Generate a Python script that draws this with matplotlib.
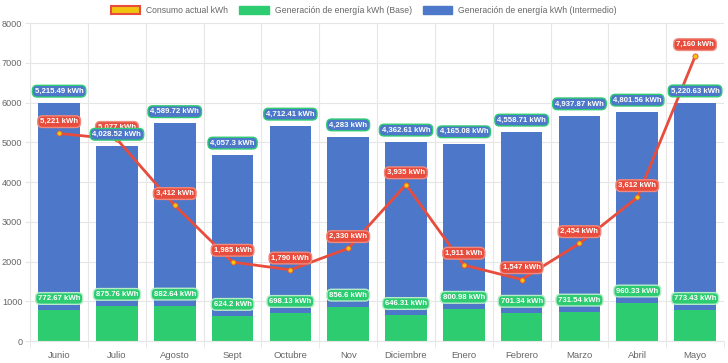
import matplotlib
matplotlib.use('Agg')
import matplotlib.pyplot as plt
from matplotlib.patches import Patch
import numpy as np

plt.rcParams['font.family'] = ['Liberation Sans', 'DejaVu Sans']

# Data
meses = ['Junio', 'Julio', 'Agosto', 'Sept', 'Octubre', 'Nov', 'Diciembre',
         'Enero', 'Febrero', 'Marzo', 'Abril', 'Mayo']
base = [772.67, 875.76, 882.64, 624.2, 698.13, 856.6, 646.31, 800.98,
        701.34, 731.54, 960.33, 773.43]
intermedio = [5215.49, 4028.52, 4589.72, 4057.3, 4712.41, 4283, 4362.61,
              4165.08, 4558.71, 4937.87, 4801.56, 5220.63]
consumo = [5221, 5077, 3412, 1985, 1790, 2330, 3935, 1911, 1547, 2454, 3612, 7160]

# Colors
green = '#2ecc71'
blue = '#4d78ca'
red = '#e74c3c'
yellow = '#f1c40f'
grid_color = '#e6e6e6'
text_color = '#666666'


def fmt(v):
    if float(v) == int(v):
        return f"{int(v):,} kWh"
    return f"{v:,.2f}".rstrip('0').rstrip('.') + " kWh"


fig = plt.figure(figsize=(7.28, 3.63), dpi=100)
ax = fig.add_axes([0.0415, 0.0606, 0.953, 0.876])

x = np.arange(len(meses))
width = 0.72

ax.bar(x, base, width, color=green, zorder=2)
ax.bar(x, intermedio, width, bottom=base, color=blue, zorder=2)
ax.plot(x, consumo, color=red, linewidth=2, zorder=4)
ax.scatter(x, consumo, s=14, color=yellow, edgecolors=red, linewidths=0.6, zorder=5)

# Data labels
box = 'round,pad=0.3,rounding_size=0.6'
lab_size = 5.6
for i in range(len(meses)):
    ax.annotate(fmt(consumo[i]), (x[i], consumo[i]), xytext=(0, 8.5),
                textcoords='offset points', ha='center', va='center',
                fontsize=lab_size, fontweight='bold', color='white', zorder=6,
                bbox=dict(boxstyle=box, fc=red, ec='#f08a7e', lw=1))
for i in range(len(meses)):
    ax.annotate(fmt(base[i]), (x[i], base[i]), xytext=(0, 8.5),
                textcoords='offset points', ha='center', va='center',
                fontsize=lab_size, fontweight='bold', color='white', zorder=7,
                bbox=dict(boxstyle=box, fc=green, ec='#b6ecc9', lw=1))
    ax.annotate(fmt(intermedio[i]), (x[i], base[i] + intermedio[i]), xytext=(0, 8.5),
                textcoords='offset points', ha='center', va='center',
                fontsize=lab_size, fontweight='bold', color='white', zorder=7,
                bbox=dict(boxstyle=box, fc=blue, ec=green, lw=1))

# Axes
ax.set_xlim(-0.5, len(meses) - 0.5)
ax.set_ylim(0, 8000)
ax.set_yticks(range(0, 8001, 1000))
ax.set_xticks(x)
ax.set_xticklabels(meses)
ax.set_xticks(np.arange(-0.5, len(meses)), minor=True)
ax.tick_params(axis='x', which='major', length=0, pad=7, labelsize=6.8, labelcolor=text_color)
ax.tick_params(axis='x', which='minor', length=5, color=grid_color)
ax.tick_params(axis='y', length=3.6, color=grid_color, labelsize=6.6, labelcolor=text_color, pad=2)
ax.grid(True, axis='y', color=grid_color, linewidth=0.8, zorder=0)
ax.grid(True, axis='x', which='minor', color=grid_color, linewidth=0.8, zorder=0)
ax.set_axisbelow(True)
for side in ['top', 'right']:
    ax.spines[side].set_visible(False)
for side in ['left', 'bottom']:
    ax.spines[side].set_color(grid_color)

# Legend
handles = [
    Patch(facecolor=yellow, edgecolor=red, linewidth=1.5, label='Consumo actual kWh'),
    Patch(facecolor=green, edgecolor=green, label='Generación de energía kWh (Base)'),
    Patch(facecolor=blue, edgecolor=blue, label='Generación de energía kWh (Intermedio)'),
]
leg = fig.legend(handles=handles, loc='center', bbox_to_anchor=(0.5, 0.972), ncol=3,
                 frameon=False, fontsize=6.2, handlelength=3.4, handleheight=1.1,
                 columnspacing=1.3, handletextpad=0.7, borderpad=0)
for t in leg.get_texts():
    t.set_color(text_color)

fig.savefig('out.png', dpi=100)
